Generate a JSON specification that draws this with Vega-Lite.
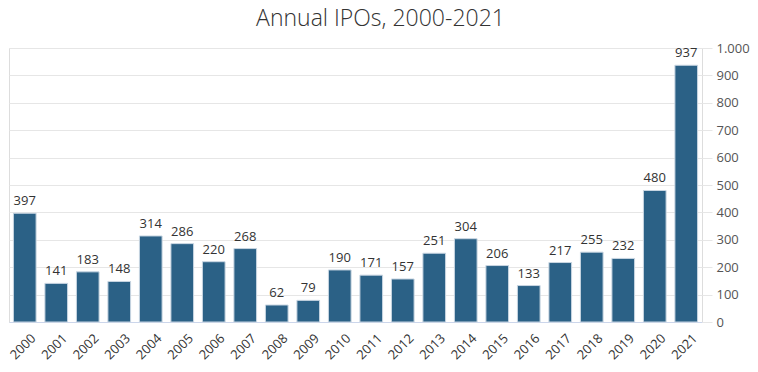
{
  "$schema": "https://vega.github.io/schema/vega-lite/v6.json",
  "autosize": "none",
  "width": 693,
  "height": 274,
  "padding": {"left": 9, "top": 48, "right": 56, "bottom": 50},
  "background": "#ffffff",
  "title": {
    "text": "Annual IPOs, 2000-2021",
    "font": "Open Sans",
    "fontSize": 23,
    "fontWeight": 300,
    "color": "#333333",
    "anchor": "middle",
    "frame": "group",
    "dx": 25,
    "offset": 11
  },
  "data": {
    "values": [
      {"year": "2000", "ipos": 397},
      {"year": "2001", "ipos": 141},
      {"year": "2002", "ipos": 183},
      {"year": "2003", "ipos": 148},
      {"year": "2004", "ipos": 314},
      {"year": "2005", "ipos": 286},
      {"year": "2006", "ipos": 220},
      {"year": "2007", "ipos": 268},
      {"year": "2008", "ipos": 62},
      {"year": "2009", "ipos": 79},
      {"year": "2010", "ipos": 190},
      {"year": "2011", "ipos": 171},
      {"year": "2012", "ipos": 157},
      {"year": "2013", "ipos": 251},
      {"year": "2014", "ipos": 304},
      {"year": "2015", "ipos": 206},
      {"year": "2016", "ipos": 133},
      {"year": "2017", "ipos": 217},
      {"year": "2018", "ipos": 255},
      {"year": "2019", "ipos": 232},
      {"year": "2020", "ipos": 480},
      {"year": "2021", "ipos": 937}
    ]
  },
  "encoding": {
    "x": {
      "field": "year",
      "type": "ordinal",
      "scale": {"paddingInner": 0.28, "paddingOuter": 0.14},
      "axis": {
        "title": null,
        "labelAngle": -45,
        "labelAlign": "right",
        "labelBaseline": "middle",
        "labelFont": "Open Sans",
        "labelFontSize": 13,
        "labelColor": "#333333",
        "labelPadding": 14,
        "labelOffset": 9,
        "ticks": false,
        "domainColor": "#ccd6eb",
        "grid": false
      }
    },
    "y": {
      "field": "ipos",
      "type": "quantitative",
      "scale": {"domain": [0, 1000]},
      "axis": {
        "title": null,
        "orient": "right",
        "values": [0, 100, 200, 300, 400, 500, 600, 700, 800, 900, 1000],
        "labelExpr": "replace(format(datum.value, ','), ',', '.')",
        "labelFont": "Open Sans",
        "labelFontSize": 13,
        "labelColor": "#555555",
        "labelPadding": 4,
        "tickSize": 10,
        "tickColor": "#e6e6e6",
        "gridColor": "#e6e6e6",
        "domain": false
      }
    }
  },
  "layer": [
    {
      "mark": {"type": "bar", "color": "#2b6186", "stroke": "#c9d6e2", "strokeWidth": 1}
    },
    {
      "mark": {"type": "text", "dy": -5, "font": "Open Sans", "fontSize": 13, "color": "#333333", "baseline": "bottom"},
      "encoding": {"text": {"field": "ipos", "type": "quantitative"}}
    }
  ]
}
